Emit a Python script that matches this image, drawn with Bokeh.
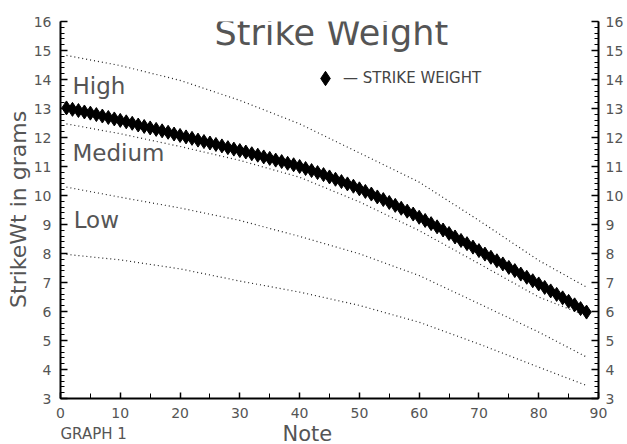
import math
from bokeh.plotting import figure
from bokeh.layouts import column
from bokeh.models import (Range1d, LinearAxis, SingleIntervalTicker, Label,
                          Legend, LegendItem)
from bokeh.embed import file_html
from bokeh.resources import INLINE

# ---- data ----
notes = list(range(1, 89))
strike_weight = [
    13.02, 12.97, 12.93, 12.88, 12.84, 12.79, 12.74, 12.69, 12.64, 12.59,
    12.54, 12.49, 12.43, 12.38, 12.33, 12.28, 12.23, 12.18, 12.12, 12.07,
    12.02, 11.97, 11.91, 11.86, 11.81, 11.76, 11.71, 11.65, 11.60, 11.55,
    11.50, 11.44, 11.39, 11.33, 11.28, 11.22, 11.17, 11.11, 11.06, 11.00,
    10.93, 10.86, 10.79, 10.72, 10.64, 10.56, 10.48, 10.40, 10.32, 10.23,
    10.14, 10.05, 9.95, 9.86, 9.76, 9.66, 9.56, 9.46, 9.36, 9.25,
    9.14, 9.03, 8.92, 8.81, 8.69, 8.57, 8.45, 8.34, 8.22, 8.10,
    7.98, 7.87, 7.75, 7.64, 7.52, 7.41, 7.29, 7.18, 7.06, 6.95,
    6.83, 6.71, 6.59, 6.47, 6.35, 6.23, 6.10, 5.98,
]

band_notes = [1, 10, 20, 30, 40, 50, 60, 70, 80, 88]
high_upper = [14.83, 14.48, 13.97, 13.28, 12.47, 11.47, 10.46, 9.14, 7.76, 6.84]
high_medium = [12.47, 12.13, 11.69, 11.21, 10.63, 9.78, 8.79, 7.65, 6.50, 5.85]
medium_low = [10.29, 9.94, 9.57, 9.14, 8.59, 7.99, 7.24, 6.27, 5.29, 4.43]
low_lower = [7.97, 7.78, 7.47, 7.05, 6.67, 6.21, 5.63, 4.88, 4.08, 3.45]

title_text = "Strike Weight"
legend_label = "\u2014 STRIKE WEIGHT"
x_label = "Note"
y_label = "StrikeWt in grams"
corner_text = "GRAPH 1"
zone_labels = ["High", "Medium", "Low"]
zone_label_x = [2.0, 2.0, 2.2]
zone_label_y = [13.76, 11.45, 9.14]

FONT = "DejaVu Sans"
TXT = "#555555"

W = 627
H_MAIN = 423
H_FOOT = 21
LEFT, RIGHT, TOP, BOTTOM = 60, 29, 21, 25

p = figure(width=W, height=H_MAIN, output_backend="svg", toolbar_location=None,
           x_range=Range1d(0, 90), y_range=Range1d(3, 16),
           min_border_left=LEFT, min_border_right=RIGHT, min_border_top=TOP,
           min_border_bottom=BOTTOM, background_fill_color="white",
           border_fill_color="white")
p.outline_line_color = None
p.grid.visible = False
p.add_layout(LinearAxis(), "right")

p.xaxis.ticker = SingleIntervalTicker(interval=10, num_minor_ticks=2)
for ax in p.yaxis:
    ax.ticker = SingleIntervalTicker(interval=1, num_minor_ticks=5)

for ax in list(p.xaxis) + list(p.yaxis):
    ax.axis_line_width = 2
    ax.axis_line_color = "black"
    ax.major_tick_out = 0
    ax.minor_tick_out = 0
    ax.major_tick_line_color = "black"
    ax.minor_tick_line_color = "black"
    ax.major_tick_line_width = 1.5
    ax.minor_tick_line_width = 1
    ax.major_label_text_font = FONT
    ax.major_label_text_font_size = "14px"
    ax.major_label_text_color = TXT

for ax in p.xaxis:
    ax.major_tick_in = 6
    ax.minor_tick_in = 5
    ax.major_label_standoff = 9

p.yaxis[0].major_tick_in = 7
p.yaxis[0].minor_tick_in = 4
p.yaxis[0].major_label_standoff = 9
p.yaxis[1].major_tick_in = 7
p.yaxis[1].minor_tick_in = 4
p.yaxis[1].major_label_standoff = 7

for series in (high_upper, high_medium, medium_low, low_lower):
    p.line(band_notes, series, line_color="#222222", line_width=1.2,
           line_dash="1 3")

r = p.scatter(notes, strike_weight, marker="diamond", size=14,
              fill_color="black", line_color="black")

legend = Legend(items=[LegendItem(label=legend_label, renderers=[r])],
                location=(247, 302), border_line_color=None,
                background_fill_alpha=0, padding=0, margin=0, spacing=0,
                glyph_width=36, glyph_height=36, label_standoff=0,
                label_text_font=FONT, label_text_font_size="15px",
                label_text_color="#444444")
p.add_layout(legend)

p.add_layout(Label(x=45.3, y=15.59, text=title_text, text_font=FONT,
                   text_font_size="35px", text_color=TXT,
                   text_align="center", text_baseline="alphabetic"))

for t, lx, ly in zip(zone_labels, zone_label_x, zone_label_y):
    p.add_layout(Label(x=lx, y=ly, text=t, text_font=FONT,
                       text_font_size="23px", text_color=TXT,
                       text_align="left", text_baseline="alphabetic"))

p.add_layout(Label(x=-7.0, y=9.52, text=y_label, angle=math.pi / 2,
                   text_font=FONT, text_font_size="22px", text_color=TXT,
                   text_align="center", text_baseline="middle"), "left")

# footer strip (its frame is aligned with the main frame by the column)
foot = figure(width=W, height=H_FOOT, output_backend="svg",
              toolbar_location=None, x_range=p.x_range,
              y_range=Range1d(0, H_FOOT), x_axis_location=None,
              y_axis_location=None, min_border=0,
              background_fill_color="white", border_fill_color="white")
foot.outline_line_color = None
foot.grid.visible = False
foot.add_layout(Label(x=41.3, y=11, text=x_label, text_font=FONT,
                      text_font_size="21px", text_color=TXT,
                      text_align="center", text_baseline="alphabetic"))
foot.add_layout(Label(x=0.0, y=11, text=corner_text, text_font=FONT,
                      text_font_size="15px", text_color=TXT,
                      text_align="left", text_baseline="alphabetic"))

layout = column(p, foot, spacing=0)
open("out.html", "w").write(file_html(layout, INLINE))
